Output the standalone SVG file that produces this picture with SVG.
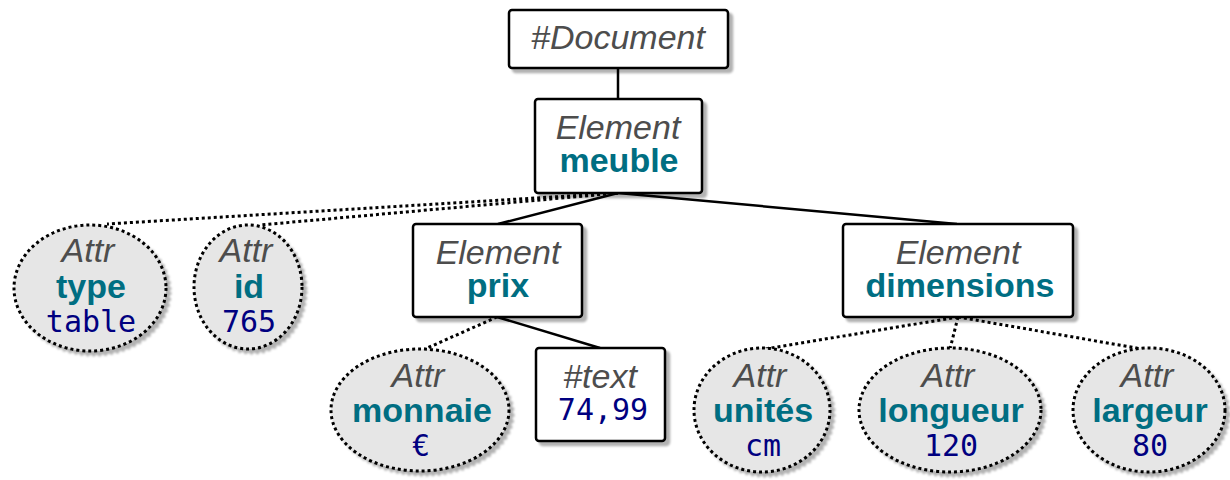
<svg xmlns="http://www.w3.org/2000/svg" width="1230" height="480" viewBox="0 0 1230 480">
<style>
.box{fill:#fff;stroke:#000;stroke-width:2.5}
.att{fill:#e6e6e6;stroke:#000;stroke-width:3;stroke-dasharray:3 3}
.sol{stroke:#000;stroke-width:2.5;fill:none}
.dot{stroke:#000;stroke-width:3;stroke-dasharray:3 3;fill:none}
.k{font-family:"Liberation Sans",Arial,sans-serif;font-style:italic;font-size:34px;fill:#4d4d4d;text-anchor:middle}
.n{font-family:"Liberation Sans",Arial,sans-serif;font-weight:bold;font-size:34px;fill:#006e82;text-anchor:middle}
.v{font-family:"DejaVu Sans Mono",monospace;font-size:30px;fill:#000080;text-anchor:middle}
</style>
<defs>
<filter id="sh" x="-10%" y="-10%" width="130%" height="130%">
<feOffset in="SourceAlpha" dx="4" dy="4" result="o"/>
<feGaussianBlur in="o" stdDeviation="0.8" result="b"/>
<feFlood flood-color="#000" flood-opacity="0.3"/>
<feComposite in2="b" operator="in" result="s"/>
<feMerge><feMergeNode in="s"/><feMergeNode in="SourceGraphic"/></feMerge>
</filter>
</defs>
<g id="connectors">
<line class="sol" x1="618" y1="68" x2="618" y2="99"/>
<line class="sol" x1="618" y1="193" x2="498" y2="224"/>
<line class="sol" x1="618" y1="193" x2="957" y2="224"/>
<line class="dot" x1="618" y1="193" x2="107" y2="224"/>
<line class="dot" x1="618" y1="193" x2="260" y2="225"/>
<line class="dot" x1="497" y1="317" x2="425" y2="349"/>
<line class="sol" x1="497" y1="317" x2="600" y2="348"/>
<line class="dot" x1="958" y1="317" x2="765" y2="349"/>
<line class="dot" x1="958" y1="317" x2="950" y2="349"/>
<line class="dot" x1="958" y1="317" x2="1142" y2="349"/>
</g>
<g id="document">
<rect class="box" x="509" y="10" width="219" height="58" rx="3" filter="url(#sh)"/>
<text class="k" x="618" y="49">#Document</text>
</g>
<g id="meuble">
<rect class="box" x="535" y="99" width="167" height="94" rx="3" filter="url(#sh)"/>
<text class="k" x="618" y="139">Element</text>
<text class="n" x="619" y="172">meuble</text>
</g>
<g id="attr-type">
<ellipse class="att" cx="90" cy="288" rx="76" ry="63" filter="url(#sh)"/>
<text class="k" x="88" y="262">Attr</text>
<text class="n" x="91" y="298">type</text>
<text class="v" x="91" y="332">table</text>
</g>
<g id="attr-id">
<ellipse class="att" cx="248" cy="287" rx="54" ry="62" filter="url(#sh)"/>
<text class="k" x="246" y="262">Attr</text>
<text class="n" x="249" y="298">id</text>
<text class="v" x="249" y="332">765</text>
</g>
<g id="prix">
<rect class="box" x="413" y="224" width="169" height="93" rx="3" filter="url(#sh)"/>
<text class="k" x="498" y="264">Element</text>
<text class="n" x="498" y="297">prix</text>
</g>
<g id="dimensions">
<rect class="box" x="843" y="224" width="230" height="93" rx="3" filter="url(#sh)"/>
<text class="k" x="958" y="264">Element</text>
<text class="n" x="960" y="297">dimensions</text>
</g>
<g id="attr-monnaie">
<ellipse class="att" cx="420" cy="410" rx="89" ry="61" filter="url(#sh)"/>
<text class="k" x="418" y="387">Attr</text>
<text class="n" x="422" y="422">monnaie</text>
<text class="v" x="421" y="456">€</text>
</g>
<g id="text">
<rect class="box" x="536" y="348" width="129" height="93" rx="3" filter="url(#sh)"/>
<text class="k" x="600" y="388">#text</text>
<text class="v" x="603" y="420">74,99</text>
</g>
<g id="attr-unites">
<ellipse class="att" cx="762" cy="410" rx="68" ry="62" filter="url(#sh)"/>
<text class="k" x="760" y="387">Attr</text>
<text class="n" x="763" y="422">unités</text>
<text class="v" x="763" y="456">cm</text>
</g>
<g id="attr-longueur">
<ellipse class="att" cx="950" cy="410" rx="91" ry="62" filter="url(#sh)"/>
<text class="k" x="948" y="387">Attr</text>
<text class="n" x="951" y="422">longueur</text>
<text class="v" x="951" y="456">120</text>
</g>
<g id="attr-largeur">
<ellipse class="att" cx="1149" cy="410" rx="76" ry="62" filter="url(#sh)"/>
<text class="k" x="1147" y="387">Attr</text>
<text class="n" x="1150" y="422">largeur</text>
<text class="v" x="1150" y="456">80</text>
</g>
</svg>
